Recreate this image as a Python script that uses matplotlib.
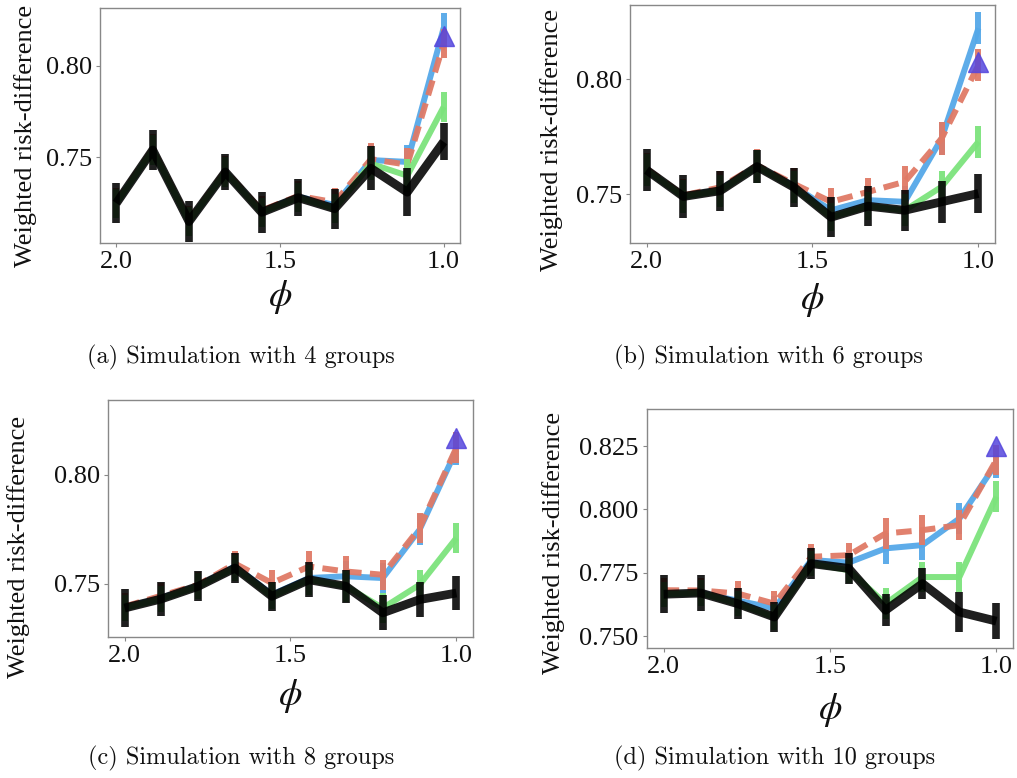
import matplotlib
matplotlib.use("Agg")
import matplotlib.pyplot as plt
from matplotlib.ticker import FixedLocator, FormatStrFormatter

plt.rcParams['mathtext.fontset'] = 'stix'
plt.rcParams['font.family'] = ['Liberation Serif', 'DejaVu Serif']
plt.rcParams['lines.solid_capstyle'] = 'butt'
plt.rcParams['lines.dash_capstyle'] = 'butt'
plt.rcParams['lines.solid_joinstyle'] = 'round'

phi = [2.0, 1.889, 1.778, 1.667, 1.556, 1.444, 1.333, 1.222, 1.111, 1.0]

# ---- (a) 4 groups
a_black = [0.725, 0.754, 0.715, 0.742, 0.720, 0.728, 0.722, 0.744, 0.731, 0.7585]
a_black_err = [0.011, 0.011, 0.011, 0.010, 0.011, 0.010, 0.011, 0.012, 0.013, 0.010]
a_green = [0.725, 0.754, 0.715, 0.742, 0.720, 0.728, 0.722, 0.7465, 0.740, 0.7775]
a_blue = [0.725, 0.754, 0.715, 0.742, 0.7205, 0.7285, 0.724, 0.7485, 0.7475, 0.8205]
a_red = [0.7255, 0.7545, 0.7155, 0.7425, 0.721, 0.729, 0.7255, 0.749, 0.746, 0.812]
a_col_err = [0.008, 0.008, 0.008, 0.008, 0.008, 0.008, 0.008, 0.009, 0.009, 0.008]
a_best = 0.816

# ---- (b) 6 groups
b_black = [0.7605, 0.749, 0.7515, 0.762, 0.753, 0.740, 0.7448, 0.743, 0.7467, 0.7503]
b_black_err = [0.009, 0.0095, 0.0087, 0.007, 0.0085, 0.0087, 0.0087, 0.009, 0.009, 0.0086]
b_green = [0.7605, 0.749, 0.7515, 0.762, 0.753, 0.740, 0.7448, 0.743, 0.7532, 0.7728]
b_blue = [0.7605, 0.749, 0.752, 0.762, 0.7535, 0.743, 0.7474, 0.7467, 0.7742, 0.8221]
b_red = [0.761, 0.7495, 0.753, 0.7625, 0.7545, 0.7467, 0.751, 0.7554, 0.7742, 0.806]
b_col_err = [0.007, 0.007, 0.007, 0.007, 0.007, 0.006, 0.006, 0.007, 0.007, 0.007]
b_best = 0.8076

# ---- (c) 8 groups
c_black = [0.7388, 0.743, 0.7488, 0.7572, 0.7442, 0.7518, 0.7488, 0.7366, 0.7427, 0.7457]
c_black_err = [0.0087, 0.0078, 0.0069, 0.0069, 0.0066, 0.008, 0.0077, 0.008, 0.008, 0.0078]
c_green = [0.7388, 0.743, 0.7488, 0.7572, 0.7442, 0.7518, 0.7488, 0.7388, 0.7495, 0.771]
c_blue = [0.739, 0.7435, 0.749, 0.758, 0.745, 0.7526, 0.7534, 0.7526, 0.7748, 0.8115]
c_red = [0.7395, 0.7445, 0.7495, 0.7592, 0.7503, 0.7579, 0.7556, 0.7541, 0.7755, 0.8125]
c_col_err = [0.006, 0.006, 0.006, 0.006, 0.006, 0.007, 0.007, 0.007, 0.007, 0.007]
c_best = 0.8168

# ---- (d) 10 groups
d_black = [0.7665, 0.767, 0.7628, 0.7575, 0.7786, 0.7767, 0.7602, 0.7707, 0.7595, 0.7559]
d_black_err = [0.0075, 0.007, 0.006, 0.006, 0.006, 0.006, 0.0063, 0.006, 0.008, 0.0072]
d_green = [0.7665, 0.767, 0.7628, 0.7575, 0.7786, 0.776, 0.7628, 0.7733, 0.7733, 0.805]
d_blue = [0.7665, 0.767, 0.764, 0.761, 0.780, 0.779, 0.7846, 0.7859, 0.7964, 0.8182]
d_red = [0.7681, 0.768, 0.7668, 0.7628, 0.7813, 0.7819, 0.7905, 0.7918, 0.7938, 0.8195]
d_col_err = [0.005, 0.005, 0.005, 0.005, 0.005, 0.005, 0.006, 0.006, 0.006, 0.006]
d_best = 0.825

captions = ["(a) Simulation with 4 groups", "(b) Simulation with 6 groups",
            "(c) Simulation with 8 groups", "(d) Simulation with 10 groups"]
ylabel = "Weighted risk-difference"

W, H = 1017, 778
fig = plt.figure(figsize=(W / 100, H / 100), dpi=100)

def px_axes(l, r, t, b):
    return fig.add_axes([l / W, (H - b) / H, (r - l) / W, (b - t) / H])

panels = [
    dict(box=(100, 460, 8, 243), ylim=(0.7033, 0.8314), yt=[0.75, 0.80], fmt='%.2f',
         data=(a_black, a_black_err, a_green, a_blue, a_red, a_col_err, a_best),
         ylab=(-0.175, 0.455), xlab=-0.15, cap=(241, 357)),
    dict(box=(630, 995, 5, 243), ylim=(0.7288, 0.8322), yt=[0.75, 0.80], fmt='%.2f',
         data=(b_black, b_black_err, b_green, b_blue, b_red, b_col_err, b_best),
         ylab=(-0.184, 0.435), xlab=-0.16, cap=(768, 357)),
    dict(box=(108, 473, 400, 637), ylim=(0.7255, 0.8344), yt=[0.75, 0.80], fmt='%.2f',
         data=(c_black, c_black_err, c_green, c_blue, c_red, c_col_err, c_best),
         ylab=(-0.214, 0.378), xlab=-0.17, cap=(241, 758)),
    dict(box=(647, 1013, 409, 648), ylim=(0.7453, 0.8396), yt=[0.750, 0.775, 0.800, 0.825], fmt='%.3f',
         data=(d_black, d_black_err, d_green, d_blue, d_red, d_col_err, d_best),
         ylab=(-0.224, 0.441), xlab=-0.18, cap=(775, 758)),
]

BLUE = '#55a8e8'
RED = '#e07a66'
GREEN = '#7ce37c'
BLACK = '#000000'
PURPLE = '#5546dc'

for i, p in enumerate(panels):
    ax = px_axes(*p['box'])
    black, black_err, green, blue, red, col_err, best = p['data']
    ax.errorbar(phi, blue, yerr=col_err, color=BLUE, lw=4.3, elinewidth=4.3,
                capsize=0, alpha=0.95, zorder=2)
    eb = ax.errorbar(phi, red, yerr=col_err, color=RED, lw=4.3, elinewidth=4.3,
                     capsize=0, alpha=0.95, zorder=3)
    eb[0].set_dashes([2.6, 1.4])
    ax.errorbar(phi, green, yerr=col_err, color=GREEN, lw=4.3, elinewidth=4.3,
                capsize=0, alpha=0.95, zorder=4)
    ax.errorbar(phi, black, yerr=black_err, color=BLACK, lw=6.3, elinewidth=5.5,
                capsize=0, alpha=0.88, zorder=5)
    ax.plot([phi[-1]], [best], marker='^', markersize=14, color=PURPLE,
            alpha=0.85, linestyle='none', zorder=6)

    ax.set_xlim(2.05, 0.95)
    ax.set_ylim(*p['ylim'])
    ax.set_xticks([2.0, 1.5, 1.0])
    ax.set_xticklabels(['2.0', '1.5', '1.0'])
    ax.yaxis.set_major_locator(FixedLocator(p['yt']))
    ax.yaxis.set_major_formatter(FormatStrFormatter(p['fmt']))
    ax.tick_params(axis='both', labelsize=19, length=3, width=0.8,
                   color='#888888', labelcolor='#111111', pad=3)
    for s in ax.spines.values():
        s.set_color('#888888')
        s.set_linewidth(1.0)

    ax.set_ylabel(ylabel, fontsize=19, color='#111111')
    ax.yaxis.set_label_coords(*p['ylab'])
    ax.set_xlabel(r'$\phi$', fontsize=27, color='#111111')
    ax.xaxis.set_label_coords(0.5, p['xlab'])

    cx, cy = p['cap']
    fig.text(cx / W, 1 - cy / H, captions[i], family='cmr10', fontsize=17.5,
             ha='center', va='center', color='#111111')

fig.savefig('out.png', dpi=100)
